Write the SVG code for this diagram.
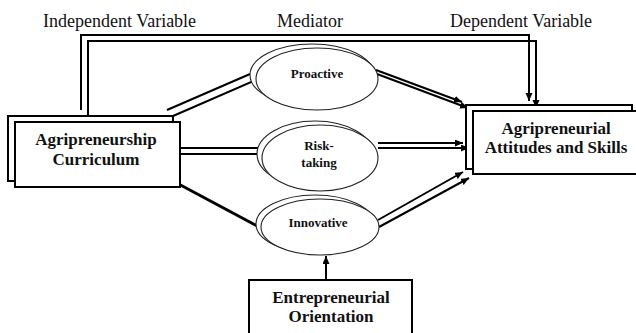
<svg xmlns="http://www.w3.org/2000/svg" width="636" height="333" viewBox="0 0 636 333">
<defs>
<marker id="ah" markerUnits="userSpaceOnUse" markerWidth="9" markerHeight="8" refX="8" refY="3.5" orient="auto"><path d="M0,0 L8,3.5 L0,7 z" fill="#000"/></marker>
<style>
text{font-family:'Liberation Serif','Times New Roman',Tinos,'DejaVu Serif',serif;fill:#111}
.title{font-size:18px}
.b{font-weight:bold;font-size:17px;text-anchor:middle}
.e{font-weight:bold;font-size:13px;text-anchor:middle}
.box{fill:#fff;stroke:#000;stroke-width:2}
.el{fill:#fff;stroke:#222;stroke-width:1.1}
.ln{fill:none;stroke:#000;stroke-width:2}
.ar{marker-end:url(#ah)}
</style>
</defs>
<rect width="636" height="333" fill="#fff"/>
<g id="titles">
<text class="title" x="43" y="26.5">Independent Variable</text>
<text class="title" x="277" y="26.5">Mediator</text>
<text class="title" x="450" y="26.5">Dependent Variable</text>
</g>
<g id="connectors">
<path class="ln" d="M81,110 V35 H529 V101"/>
<path class="ln ar" d="M529,95 V101"/>
<path class="ln ar" d="M88,116 V41 H536 V108"/>
<path class="ln" d="M167,110 L250,74"/>
<path class="ln" d="M173,116 L256,80"/>
<path class="ln ar" d="M376,70 L462,102"/>
<path class="ln ar" d="M377,74 L468,108"/>
<path class="ln" d="M180,148 H258"/>
<path class="ln" d="M173,154 H262"/>
<path class="ln ar" d="M378,143 H463"/>
<path class="ln ar" d="M378,148 H469"/>
<path class="ln" style="stroke-width:3" d="M173,181 L261,228"/>
<path class="ln ar" d="M378,220 L463,172"/>
<path class="ln ar" d="M379,227 L469,178"/>
<path class="ln ar" d="M326,280 V256"/>
</g>
<g id="curriculum">
<rect class="box" x="8" y="116" width="165" height="65"/>
<rect class="box" x="15" y="122" width="165" height="65"/>
<text class="b" x="96" y="145">Agripreneurship</text>
<text class="b" x="96" y="165">Curriculum</text>
</g>
<g id="attitudes">
<rect class="box" x="466" y="105" width="166" height="64"/>
<rect class="box" x="473" y="111" width="170" height="63"/>
<text class="b" x="556" y="134">Agripreneurial</text>
<text class="b" x="556" y="153">Attitudes and Skills</text>
</g>
<g id="proactive">
<ellipse class="el" cx="312" cy="75" rx="62" ry="31"/>
<ellipse class="el" cx="317" cy="79" rx="61" ry="31"/>
<text class="e" x="317" y="78">Proactive</text>
</g>
<g id="risk-taking">
<ellipse class="el" cx="315" cy="154" rx="58" ry="33"/>
<ellipse class="el" cx="320" cy="158" rx="58" ry="33"/>
<text class="e" x="319" y="150">Risk-</text>
<text class="e" x="319" y="167">taking</text>
</g>
<g id="innovative">
<ellipse class="el" cx="315" cy="224" rx="59" ry="29"/>
<ellipse class="el" cx="320" cy="227" rx="59" ry="28"/>
<text class="e" x="318" y="227">Innovative</text>
</g>
<g id="orientation">
<rect class="box" x="249" y="280" width="163" height="62"/>
<text class="b" x="331" y="303">Entrepreneurial</text>
<text class="b" x="331" y="322">Orientation</text>
</g>
</svg>
